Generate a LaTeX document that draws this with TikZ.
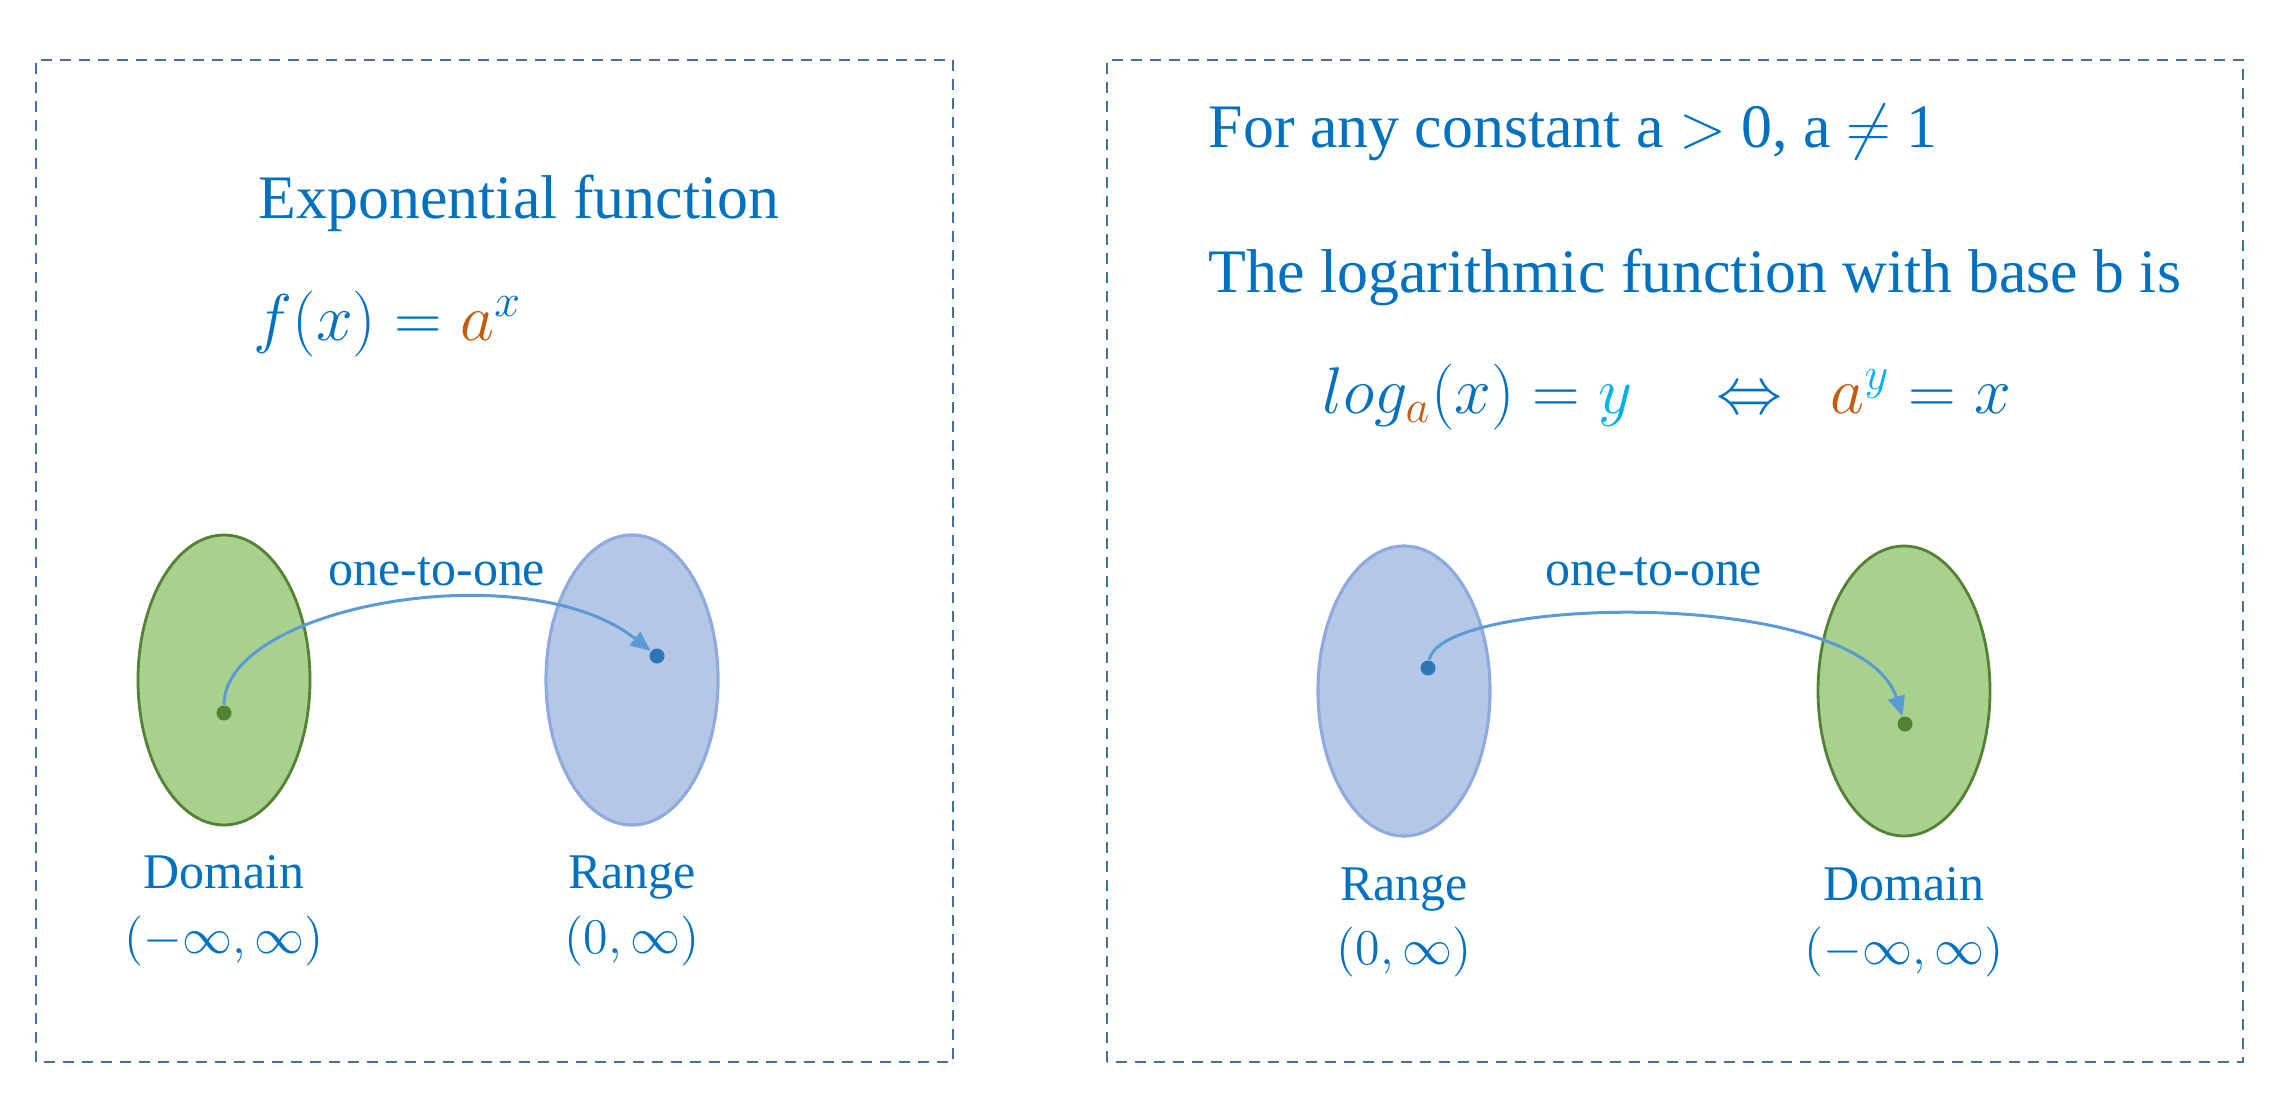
\RequirePackage{fix-cm}
\documentclass[tikz,border=0pt]{standalone}
\usepackage{amsmath,amssymb}
\usepackage{fontspec}
\setmainfont{Liberation Serif}
\usepackage{xcolor}
\usepackage{tikz}
\usetikzlibrary{arrows.meta,shapes.geometric}
\definecolor{txtblue}{HTML}{0070C0}
\definecolor{boxline}{HTML}{41719C}
\definecolor{domfill}{HTML}{A9D18E}
\definecolor{domline}{HTML}{548235}
\definecolor{ranfill}{HTML}{B4C7E7}
\definecolor{ranline}{HTML}{8FAADC}
\definecolor{randot}{HTML}{2E75B6}
\definecolor{arrblue}{HTML}{5B9BD5}
\definecolor{baseorange}{HTML}{C55A11}
\definecolor{expcyan}{HTML}{00B0F0}
\newcommand{\basea}{\textcolor{baseorange}{a}}
\newcommand{\expy}{\textcolor{expcyan}{y}}

\begin{document}
\begin{tikzpicture}[>={Triangle[length=2mm,width=1.7mm]},
  panel/.style={draw=boxline,line width=0.8pt,dash pattern=on 0.11cm off 0.08cm},
  bigtxt/.style={text=txtblue,font=\fontsize{17.6}{21}\selectfont,inner sep=0pt,anchor=base west},
  eqtxt/.style={bigtxt,font=\fontsize{18.8}{22}\selectfont},
  lbl/.style={text=txtblue,font=\fontsize{14.2}{17}\selectfont,inner sep=0pt,anchor=base},
  domset/.style={ellipse,draw=domline,fill=domfill,line width=0.8pt,
    minimum width=1.72cm,minimum height=2.9cm,inner sep=0pt},
  ranset/.style={ellipse,draw=ranline,fill=ranfill,line width=0.9pt,
    minimum width=1.72cm,minimum height=2.9cm,inner sep=0pt},
  elemdot/.style={circle,inner sep=0pt,minimum size=0.15cm},
  maparrow/.style={->,draw=arrblue,line width=0.85pt}]
  \useasboundingbox (0,0) rectangle (22.7,10.96);
  % the two dashed panels
  \draw[panel] (0.36,0.34) rectangle (9.53,10.36);
  \draw[panel] (11.07,0.34) rectangle (22.43,10.36);

  % left panel: exponential function
  \node[bigtxt] (exptitle) at (2.58,8.78) {Exponential function};
  \node[eqtxt] (expdef) at (2.53,7.56) {$f(x)=\basea^{x}$};
  \node[domset] (ldomset) at (2.24,4.16) {};
  \node[ranset] (lranset) at (6.32,4.16) {};
  \node[elemdot,fill=domline] (ldot) at (2.24,3.83) {};
  \node[elemdot,fill=randot] (rdot) at (6.57,4.40) {};
  \draw[maparrow] (ldot) .. controls +(0,1.07) and +(-1.31,1.04) .. (rdot);
  \node[lbl] (lmap) at (4.37,5.11) {one-to-one};
  \node[lbl] (ldomlbl) at (2.24,2.08) {Domain};
  \node[lbl] (ldomint) at (2.24,1.43) {$(-\infty,\infty)$};
  \node[lbl] (lranlbl) at (6.32,2.08) {Range};
  \node[lbl] (lranint) at (6.32,1.43) {$(0,\infty)$};

  % right panel: logarithmic function
  \node[bigtxt] (loghyp) at (12.08,9.49) {For any constant a $>$ 0, a $\neq$ 1};
  \node[bigtxt] (logtitle) at (12.08,8.04) {The logarithmic function with base b is};
  \node[eqtxt] (logeq) at (13.22,6.83) {$log_{\basea}(x)=\expy$};
  \node[eqtxt,anchor=base] (iffsym) at (17.50,6.83) {$\Leftrightarrow$};
  \node[eqtxt] (poweq) at (18.30,6.83) {$\basea^{\expy}=x$};
  \node[ranset] (rranset) at (14.04,4.05) {};
  \node[domset] (rdomset) at (19.04,4.05) {};
  \node[elemdot,fill=randot] (rsrc) at (14.28,4.28) {};
  \node[elemdot,fill=domline] (rtgt) at (19.05,3.72) {};
  \draw[maparrow] (rsrc) .. controls +(0.12,0.72) and +(-0.45,1.39) .. (rtgt);
  \node[lbl] (rmap) at (16.54,5.11) {one-to-one};
  \node[lbl] (rranlbl) at (14.04,1.96) {Range};
  \node[lbl] (rranint) at (14.04,1.32) {$(0,\infty)$};
  \node[lbl] (rdomlbl) at (19.04,1.96) {Domain};
  \node[lbl] (rdomint) at (19.04,1.32) {$(-\infty,\infty)$};
\end{tikzpicture}
\end{document}
